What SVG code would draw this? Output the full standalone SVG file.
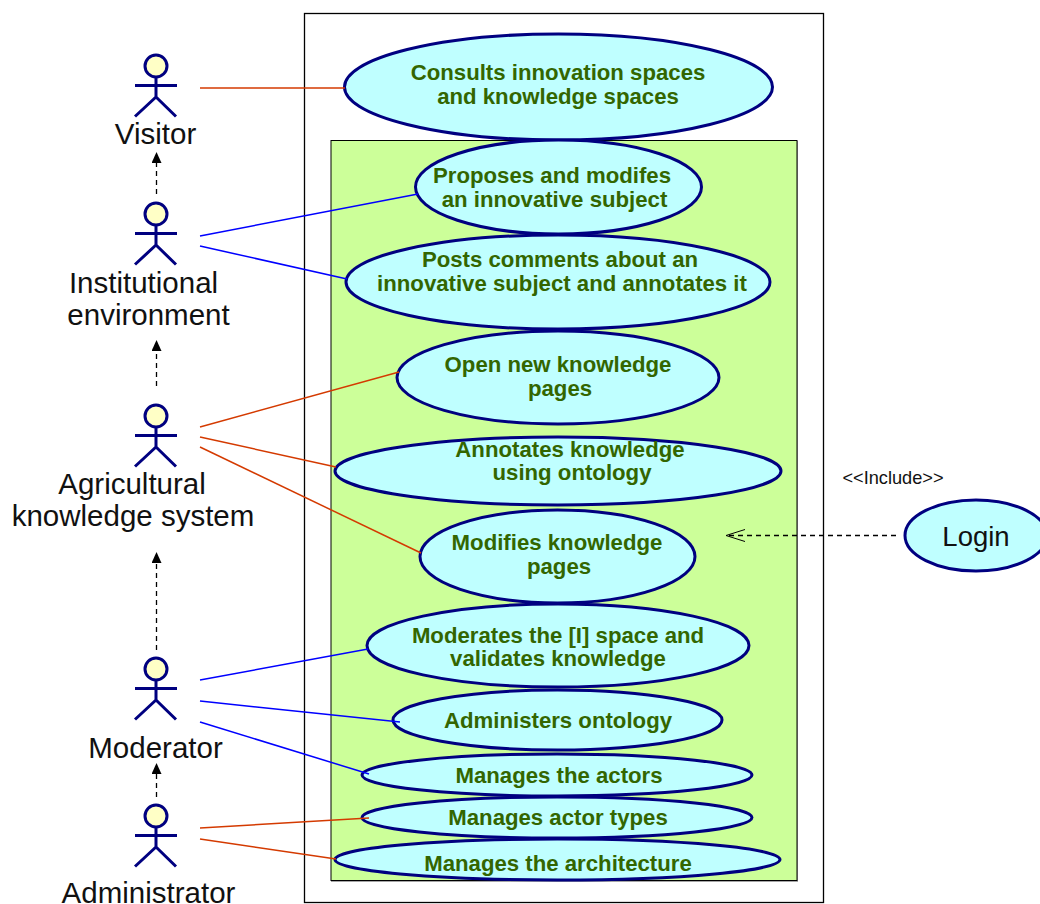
<svg xmlns="http://www.w3.org/2000/svg" width="1040" height="904" viewBox="0 0 1040 904">
<style>
text{font-family:"Liberation Sans",Arial,sans-serif}
.uc{fill:#bfffff;stroke:#000080;stroke-width:3}
.ut{font-size:22.2px;font-weight:bold;fill:#336600;text-anchor:middle}
.al{font-size:29.500px;fill:#111;text-anchor:middle}
.ah{fill:#ffffc6;stroke:#000080;stroke-width:3}
.ab{fill:none;stroke:#000080;stroke-width:3}
.o{fill:none;stroke:#d43a00;stroke-width:1.500}
.b{fill:none;stroke:#0000ff;stroke-width:1.500}
.d{fill:none;stroke:#000;stroke-width:1.300;stroke-dasharray:5 4}
</style>
<defs>
<marker id="tri" markerWidth="12" markerHeight="12" refX="5" refY="5" orient="auto" markerUnits="userSpaceOnUse"><path d="M0,0L11,5L0,10z" fill="#000"/></marker>
<marker id="open" markerWidth="20" markerHeight="14" refX="19" refY="6" orient="auto" markerUnits="userSpaceOnUse"><path d="M0,0L19,6L0,12" fill="none" stroke="#000" stroke-width="1"/></marker>
<g id="stick"><circle class="ah" cx="0" cy="0" r="11"/><path class="ab" d="M0,11V31M-21,19.500H21M-21,50.500L0,31L20,50.500"/></g>
</defs>
<rect x="304.500" y="13.500" width="519" height="889" fill="#fff" stroke="#000" stroke-width="1.300"/>
<rect x="331" y="141" width="467" height="741" fill="#000" fill-opacity="0.35"/>
<rect x="331" y="140.500" width="466" height="740" fill="#ccff99" stroke="#000" stroke-width="1"/>
<g id="actor-visitor"><use href="#stick" x="156" y="66"/><text class="al" x="155.500" y="144">Visitor</text></g>
<g id="actor-institutional"><use href="#stick" x="156" y="214"/><text class="al" x="143.500" y="293">Institutional</text><text class="al" x="148.500" y="325">environment</text></g>
<g id="actor-agricultural"><use href="#stick" x="156" y="416"/><text class="al" x="132" y="494">Agricultural</text><text class="al" x="133" y="526">knowledge system</text></g>
<g id="actor-moderator"><use href="#stick" x="156" y="669"/><text class="al" x="155.500" y="758">Moderator</text></g>
<g id="actor-administrator"><use href="#stick" x="156" y="816"/><text class="al" x="148.500" y="903">Administrator</text></g>
<g id="uc-consults"><ellipse class="uc" cx="558.500" cy="87" rx="214" ry="53"/><text class="ut" x="558" y="80">Consults innovation spaces</text><text class="ut" x="558" y="104">and knowledge spaces</text></g>
<g id="uc-proposes"><ellipse class="uc" cx="558.500" cy="187" rx="143" ry="47"/><text class="ut" x="552" y="183">Proposes and modifes</text><text class="ut" x="554.500" y="207">an innovative subject</text></g>
<g id="uc-posts"><ellipse class="uc" cx="558" cy="282" rx="212" ry="47"/><text class="ut" x="560" y="267">Posts comments about an</text><text class="ut" x="562" y="291">innovative subject and annotates it</text></g>
<g id="uc-open"><ellipse class="uc" cx="558" cy="377.500" rx="161" ry="46.500"/><text class="ut" x="558" y="372">Open new knowledge</text><text class="ut" x="560" y="396">pages</text></g>
<g id="uc-annotates"><ellipse class="uc" cx="558" cy="471" rx="223" ry="34"/><text class="ut" x="570" y="457">Annotates knowledge</text><text class="ut" x="572" y="480">using ontology</text></g>
<g id="uc-modifies"><ellipse class="uc" cx="557.500" cy="556.500" rx="137.500" ry="46.500"/><text class="ut" x="557" y="550">Modifies knowledge</text><text class="ut" x="559" y="574">pages</text></g>
<g id="uc-moderates"><ellipse class="uc" cx="558" cy="645.500" rx="191" ry="41.500"/><text class="ut" x="558" y="643">Moderates the [I] space and</text><text class="ut" x="558" y="666">validates knowledge</text></g>
<g id="uc-ontology"><ellipse class="uc" cx="557.500" cy="720" rx="164.500" ry="30"/><text class="ut" x="558" y="728">Administers ontology</text></g>
<g id="uc-actors"><ellipse class="uc" cx="557" cy="775" rx="195" ry="21"/><text class="ut" x="559" y="783">Manages the actors</text></g>
<g id="uc-types"><ellipse class="uc" cx="557" cy="817.500" rx="195" ry="20.500"/><text class="ut" x="558" y="825">Manages actor types</text></g>
<g id="uc-architecture"><ellipse class="uc" cx="557.500" cy="859.500" rx="222.500" ry="20.500"/><text class="ut" x="558" y="871">Manages the architecture</text></g>
<g id="uc-login"><ellipse class="uc" cx="976" cy="535.500" rx="71" ry="35.500"/><text x="976" y="546" font-size="27.500" fill="#111" text-anchor="middle">Login</text></g>
<text x="893" y="484" font-size="18.200" fill="#111" text-anchor="middle">&lt;&lt;Include&gt;&gt;</text>
<g id="connectors">
<path class="o" d="M200,88H345"/>
<path class="b" d="M200,236L418,194"/>
<path class="b" d="M200,246L347,279"/>
<path class="o" d="M200,427L399,372"/>
<path class="o" d="M200,437L336,467"/>
<path class="o" d="M200,447L421,553"/>
<path class="b" d="M200,680L368,649"/>
<path class="b" d="M200,701L400,722"/>
<path class="b" d="M200,722L369,774"/>
<path class="o" d="M200,828L369,818"/>
<path class="o" d="M200,839L336,859"/>
<path class="d" d="M156.500,194V158" marker-end="url(#tri)"/>
<path class="d" d="M156.500,386V346" marker-end="url(#tri)"/>
<path class="d" d="M156.500,650V558" marker-end="url(#tri)"/>
<path class="d" d="M156.500,797V769" marker-end="url(#tri)"/>
<path class="d" d="M896,535.500H726" marker-end="url(#open)"/>
</g>
</svg>
